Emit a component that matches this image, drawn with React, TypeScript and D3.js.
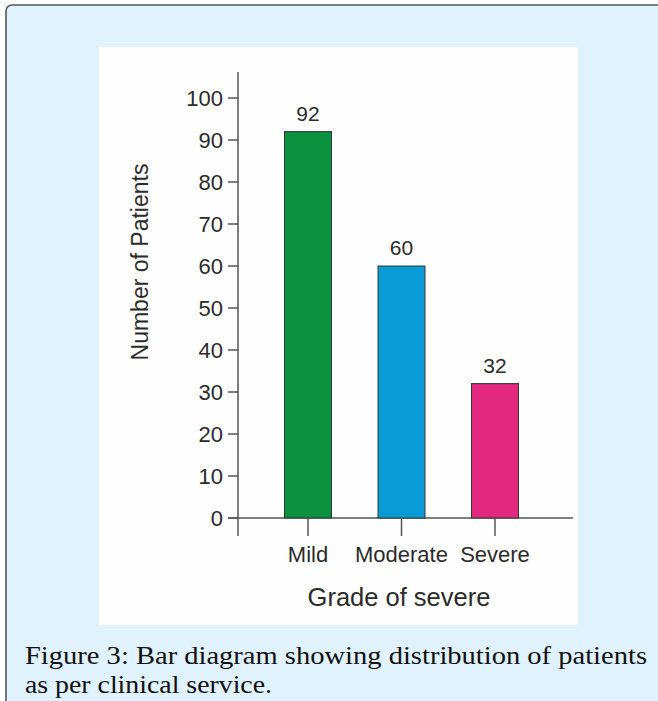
import React from "react";
import * as d3 from "d3";

const categories = ["Mild", "Moderate", "Severe"];
const values = [92, 60, 32];
const barColors = ["#0b9140", "#0a9bd7", "#e2287f"];
const yTicks = [0, 10, 20, 30, 40, 50, 60, 70, 80, 90, 100];
const xTitle = "Grade of severe";
const yTitle = "Number of Patients";
const captionLines = [
  "Figure 3: Bar diagram showing distribution of patients",
  "as per clinical service.",
];

export default function App() {
  const W = 658;
  const H = 701;
  const axisX = 238;
  const y = d3.scaleLinear().domain([0, 100]).range([518, 98]);
  const x = d3.scalePoint<string>().domain(categories).range([308, 495]);
  const bw = 47;
  const font = "'Liberation Sans', Arial, sans-serif";
  const txt = "#2b2b2b";
  const axisColor = "#555";

  return (
    <svg width={W} height={H} style={{ position: "absolute", left: 0, top: 0 }}>
      <rect x={0} y={0} width={W} height={H} fill="#ffffff" />
      <rect x={6} y={5} width={W + 20} height={H + 20} rx={6} fill="#dff2fd" stroke="#555" strokeWidth={1.6} />
      <rect x={99} y={47} width={479} height={578} fill="#fefefe" />
      <line x1={axisX} x2={axisX} y1={72} y2={536} stroke={axisColor} strokeWidth={1.5} />
      <line x1={228} x2={573} y1={y(0)} y2={y(0)} stroke={axisColor} strokeWidth={1.5} />
      {yTicks.map((t) => (
        <g key={t}>
          <line x1={228} x2={axisX} y1={y(t)} y2={y(t)} stroke={axisColor} strokeWidth={1.5} />
          <text x={223} y={y(t)} dy="0.36em" textAnchor="end" fontFamily={font} fontSize={22} fill={txt}>
            {t}
          </text>
        </g>
      ))}
      {categories.map((c, i) => {
        const cx = x(c) as number;
        return (
          <g key={c}>
            <rect
              x={cx - bw / 2}
              y={y(values[i])}
              width={bw}
              height={y(0) - y(values[i])}
              fill={barColors[i]}
              stroke="#2d3a33"
              strokeWidth={1}
            />
            <line x1={cx} x2={cx} y1={y(0)} y2={536} stroke={axisColor} strokeWidth={1.5} />
            <text x={cx} y={y(values[i]) - 11} textAnchor="middle" fontFamily={font} fontSize={21} fill={txt}>
              {values[i]}
            </text>
            <text x={cx} y={562} textAnchor="middle" fontFamily={font} fontSize={22} fill={txt}>
              {c}
            </text>
          </g>
        );
      })}
      <text x={399} y={606} textAnchor="middle" fontFamily={font} fontSize={25.5} fill={txt}>
        {xTitle}
      </text>
      <text
        transform={`translate(148,262) rotate(-90)`}
        textAnchor="middle"
        fontFamily={font}
        fontSize={23}
        fill={txt}
      >
        {yTitle}
      </text>
      {captionLines.map((l, i) => (
        <text
          key={i}
          x={25}
          y={664 + i * 29}
          fontFamily="'Liberation Serif', 'DejaVu Serif', serif"
          fontSize={25}
          fill="#111"
          textLength={i === 0 ? 622 : 247}
          lengthAdjust="spacingAndGlyphs"
        >
          {l}
        </text>
      ))}
    </svg>
  );
}
